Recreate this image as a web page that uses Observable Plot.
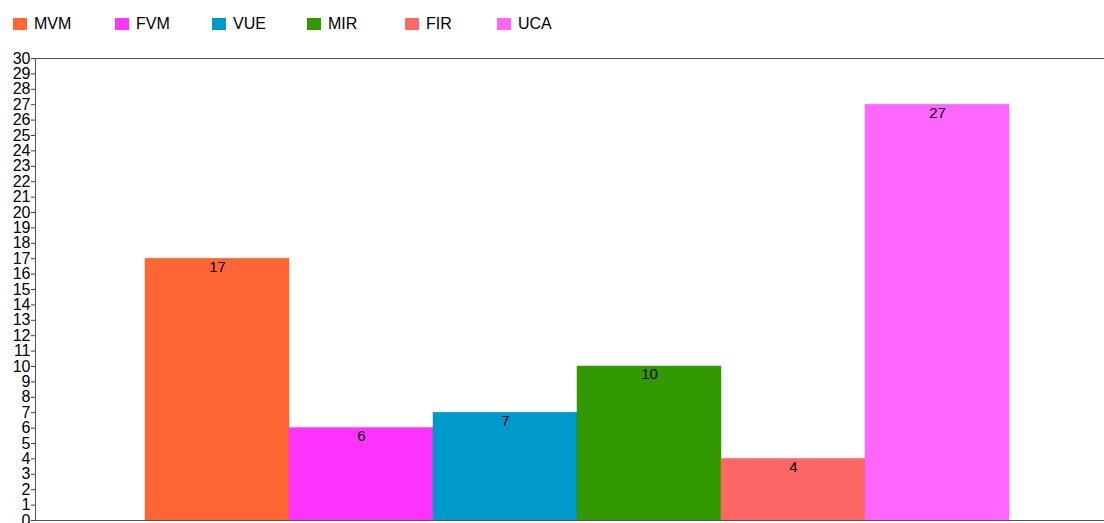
<!DOCTYPE html>
<html><head><meta charset="utf-8">
<script src="https://cdn.jsdelivr.net/npm/d3@7"></script>
<script src="https://cdn.jsdelivr.net/npm/@observablehq/plot@0.6"></script>
<style>
body{margin:0;background:#fff;font-family:"Liberation Sans",Arial,sans-serif;}
#legend{height:46px;position:relative;}
.item{position:absolute;top:15px;font-size:16px;color:#000;display:flex;align-items:center;}
.sw{width:14px;height:12px;margin-right:7px;display:inline-block;box-sizing:border-box;}
</style></head><body>
<div id="legend"></div>
<div id="chart"></div>
<script>
const categories = ["MVM","FVM","VUE","MIR","FIR","UCA"];
const values = [17,6,7,10,4,27];
const colors = ["#FF6633","#FF33FF","#0099CC","#339900","#FF6666","#FF66FF"];
const yTicks = d3.range(0,31);
const legendX = [13,115,212,307,405,497];

const data = categories.map((c,i)=>({cat:c, value:values[i], color:colors[i]}));

const leg = document.getElementById("legend");
categories.forEach((c,i)=>{
  const d = document.createElement("div");
  d.className="item"; d.style.left=legendX[i]+"px";
  d.innerHTML = `<span class="sw" style="background:${colors[i]}"></span>${c}`;
  leg.appendChild(d);
});

const chart = Plot.plot({
  width:1104, height:477,
  marginLeft:35, marginRight:0, marginTop:12, marginBottom:3,
  style:{fontFamily:"Liberation Sans, Arial, sans-serif", fontSize:"16px", color:"#000", background:"#fff"},
  x:{type:"band", domain:categories, range:[144,1010], padding:0, axis:null},
  y:{domain:[0,30], ticks:yTicks, tickFormat:d=>d, label:null},
  marks:[
    Plot.barY(data,{x:"cat", y:"value", fill:"color", stroke:"color", strokeWidth:0.5}),
    Plot.text(data,{x:"cat", y:"value", text:d=>String(d.value), dy:8, fontSize:15, fill:"#000"}),
    Plot.axisY({ticks:yTicks, tickSize:4, tickPadding:1, fontSize:16, fill:"#000", stroke:"#444", label:null}),
    Plot.ruleY([0,30],{stroke:"#555", strokeWidth:1}),
    Plot.frame({anchor:"left", stroke:"#555", strokeWidth:1})
  ]
});
document.getElementById("chart").appendChild(chart);
</script>
</body></html>
